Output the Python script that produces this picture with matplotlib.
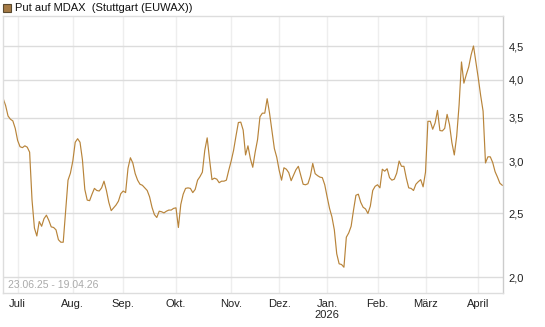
import numpy as np
import pandas as pd
import matplotlib
matplotlib.use('Agg')
import matplotlib.pyplot as plt
from matplotlib.patches import Rectangle
from matplotlib.ticker import FixedLocator, NullLocator, FuncFormatter

plt.rcParams['font.family'] = ['Liberation Sans', 'DejaVu Sans']

# Trading days at Stuttgart, 23.06.25 - 17.04.26.
holidays = ['2025-12-24', '2025-12-25', '2025-12-26', '2026-01-01', '2026-04-03', '2026-04-06']
dates = pd.bdate_range('2025-06-23', '2026-04-17')
dates = dates[~dates.isin(pd.to_datetime(holidays))]

# Closing prices.
prices = [
    3.74, 3.65, 3.52, 3.48, 3.46, 3.37, 3.23, 3.16, 3.15, 3.17,
    3.155, 3.10, 2.62, 2.375, 2.31, 2.43, 2.39, 2.455, 2.485, 2.44,
    2.385, 2.38, 2.36, 2.28, 2.26, 2.26, 2.52, 2.81, 2.88, 3.005,
    3.21, 3.25, 3.21, 3.02, 2.72, 2.62, 2.615, 2.675, 2.73, 2.71,
    2.705, 2.735, 2.80, 2.71, 2.60, 2.525, 2.55, 2.575, 2.61, 2.68,
    2.705, 2.69, 2.93, 3.04, 2.985, 2.875, 2.81, 2.77, 2.76, 2.735,
    2.71, 2.65, 2.555, 2.49, 2.465, 2.52, 2.515, 2.505, 2.52, 2.53,
    2.53, 2.545, 2.55, 2.38, 2.58, 2.675, 2.73, 2.735, 2.73, 2.69,
    2.72, 2.81, 2.845, 2.89, 3.12, 3.26, 3.02, 2.815, 2.83, 2.82,
    2.785, 2.80, 2.80, 2.81, 2.91, 3.005, 3.12, 3.28, 3.44, 3.445,
    3.35, 3.07, 3.17, 3.03, 2.94, 3.10, 3.24, 3.51, 3.555, 3.555,
    3.74, 3.555, 3.34, 3.14, 3.045, 2.91, 2.81, 2.935, 2.92, 2.885,
    2.805, 2.86, 2.915, 2.95, 2.86, 2.77, 2.765, 2.775, 2.85, 2.98,
    2.875, 2.855, 2.84, 2.835, 2.765, 2.65, 2.545, 2.47, 2.36, 2.17,
    2.095, 2.09, 2.07, 2.30, 2.335, 2.39, 2.53, 2.665, 2.675, 2.60,
    2.555, 2.54, 2.50, 2.565, 2.71, 2.75, 2.765, 2.735, 2.92, 2.90,
    2.925, 2.835, 2.81, 2.82, 2.88, 3.005, 2.95, 2.95, 2.83, 2.735,
    2.73, 2.71, 2.77, 2.795, 2.815, 2.745, 2.89, 3.455, 3.455, 3.36,
    3.435, 3.59, 3.345, 3.34, 3.37, 3.54, 3.415, 3.205, 3.07, 3.28,
    3.66, 4.255, 3.95, 4.07, 4.18, 4.36, 4.50, 4.25, 4.02, 3.78,
    3.58, 2.985, 3.05, 3.05, 2.99, 2.895, 2.84, 2.78, 2.76,
]

month_labels = ['Juli', 'Aug.', 'Sep.', 'Okt.', 'Nov.', 'Dez.', 'Jan.\n2026', 'Feb.', 'März', 'April']
month_starts = pd.date_range('2025-07-01', '2026-04-01', freq='MS')
y_ticks = [2.0, 2.5, 3.0, 3.5, 4.0, 4.5]

line_color = '#b8843a'
grid_h = '#dcdcdc'
grid_v = '#eeeeee'

W, H = 545, 327
fig = plt.figure(figsize=(W / 100, H / 100), dpi=100)
ax = fig.add_axes([3 / W, 34 / H, 500 / W, 277 / H])

x = np.arange(len(prices))
ax.plot(x, prices, color=line_color, lw=0.85)

ax.set_yscale('log')
ax.set_ylim(1.891, 5.0)
ax.set_xlim(-0.1, 208.3)

ax.yaxis.set_major_locator(FixedLocator(y_ticks))
ax.yaxis.set_minor_locator(NullLocator())
ax.yaxis.set_major_formatter(FuncFormatter(lambda v, p: f'{v:.1f}'.replace('.', ',')))
ax.yaxis.tick_right()

tick_pos = [int(np.searchsorted(dates, m)) for m in month_starts]
ax.set_xticks(tick_pos)
ax.set_xticklabels(month_labels)

ax.tick_params(axis='both', length=0, labelsize=8, colors='#222222')
ax.tick_params(axis='x', pad=4)
ax.tick_params(axis='y', pad=4)

for t in tick_pos:
    ax.axvline(t, color=grid_v, lw=1.0, zorder=0)
for v in y_ticks:
    ax.axhline(v, color=grid_h, lw=1.0, zorder=0)

for side in ['left', 'top', 'bottom']:
    ax.spines[side].set_color('#dddddd')
    ax.spines[side].set_linewidth(1.0)
ax.spines['right'].set_color('#cccccc')
ax.spines['right'].set_linewidth(1.0)

ax.text(0.01, 0.012, '23.06.25 - 19.04.26', transform=ax.transAxes,
        fontsize=7.5, color='#aaaaaa', ha='left', va='bottom')

# Legend on top.
fig.patches.append(Rectangle((3 / W, 1 - 12 / H), 8 / W, 8 / H, transform=fig.transFigure,
                             facecolor='#a57a45', edgecolor='#5a4a30', lw=0.8))
fig.text(15 / W, 1 - 8 / H, 'Put auf MDAX  (Stuttgart (EUWAX))', fontsize=8,
         color='#111111', ha='left', va='center')

fig.savefig('out.png', dpi=100)
